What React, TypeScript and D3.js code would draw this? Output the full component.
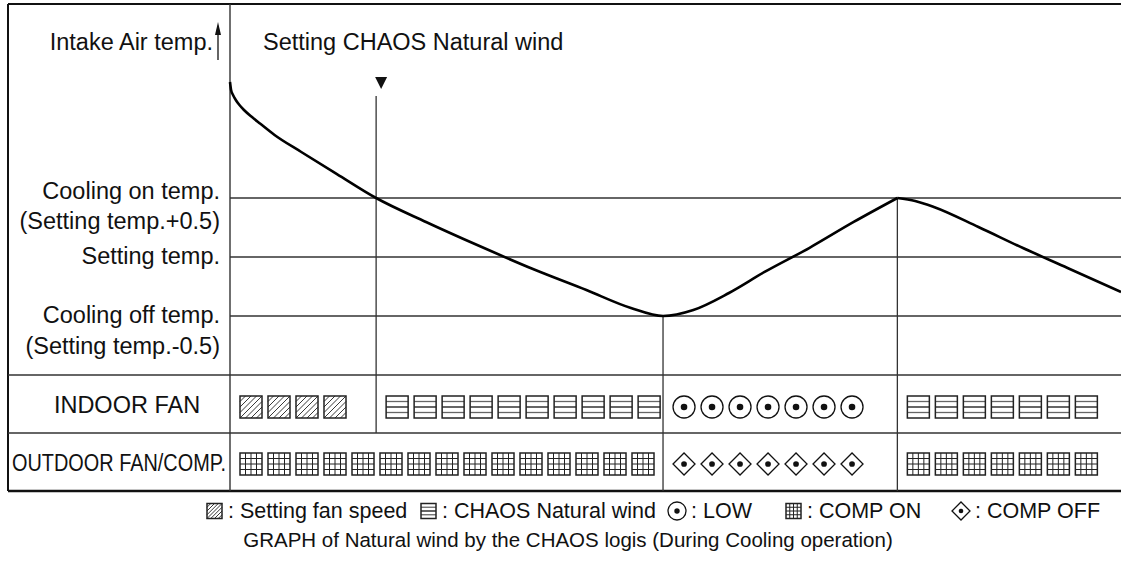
import React from 'react';
import * as d3 from 'd3';

// intake air temperature relative to setting temp (deg), against time (arbitrary units)
const curveTime = [0, 0.12, 0.34, 0.65, 1.06, 1.57, 2.47, 3.37, 5, 8, 12, 16.4, 22, 28, 34, 40, 45, 48.6, 52, 56, 60, 65, 70, 74.9, 76.9, 79, 84, 89, 94, 100];
const curveTemp = [1.483, 1.415, 1.373, 1.331, 1.288, 1.246, 1.186, 1.131, 1.034, 0.89, 0.703, 0.5, 0.297, 0.093, -0.102, -0.28, -0.432, -0.5,
  -0.449, -0.305, -0.127, 0.076, 0.297, 0.5, 0.475, 0.424, 0.254, 0.076, -0.093, -0.297];

const levelTemps = [0.5, 0, -0.5];
const levelLabels = [['Cooling on temp.', '(Setting temp.+0.5)'], ['Setting temp.'], ['Cooling off temp.', '(Setting temp.-0.5)']];

const chaosTime = 16.4;
const offTime = 48.6;
const onTime = 74.9;

const indoorKinds = ['hatch', 'lined', 'circle', 'lined'];
const indoorCounts = [4, 10, 7, 7];
const indoorStarts = [0, chaosTime, offTime, onTime];
const outdoorKinds = ['grid', 'diamond', 'grid'];
const outdoorCounts = [15, 7, 7];
const outdoorStarts = [0, offTime, onTime];

const legendKinds = ['hatch', 'lined', 'circle', 'grid', 'diamond'];
const legendTexts = [': Setting fan speed', ': CHAOS Natural wind', ': LOW', ': COMP ON', ': COMP OFF'];
const caption = 'GRAPH of Natural wind by the CHAOS logis (During Cooling operation)';

const W = 1121;
const H = 564;
const FONT = '"Liberation Sans", Arial, Helvetica, sans-serif';
const left = 8, axisX = 230, top = 4, bottom = 491;
const row1 = 375, row2 = 433;

const x = d3.scaleLinear().domain([0, 100]).range([axisX, W]);
const y = d3.scaleLinear().domain([-0.5, 0.5]).range([316, 198]);

const Symbol: React.FC<{ kind: string; cx: number; cy: number; s: number }> = ({ kind, cx, cy, s }) => {
  const h = s / 2;
  const x0 = cx - h, y0 = cy - h;
  if (kind === 'circle') {
    return (
      <g>
        <circle cx={cx} cy={cy} r={h} fill="none" stroke="#111" strokeWidth={1.3} />
        <circle cx={cx} cy={cy} r={s * 0.15} fill="#111" />
      </g>
    );
  }
  if (kind === 'diamond') {
    return (
      <g>
        <path d={`M${cx - h},${cy}L${cx},${cy - h}L${cx + h},${cy}L${cx},${cy + h}Z`} fill="none" stroke="#111" strokeWidth={1.3} />
        <circle cx={cx} cy={cy} r={s * 0.13} fill="#111" />
      </g>
    );
  }
  const lines: JSX.Element[] = [];
  if (kind === 'lined') {
    [0.25, 0.5, 0.75].forEach((f, i) =>
      lines.push(<line key={i} x1={x0} x2={x0 + s} y1={y0 + s * f} y2={y0 + s * f} stroke={i === 1 ? '#111' : '#666'} strokeWidth={1.3} />));
  } else if (kind === 'grid') {
    [0.25, 0.5, 0.75].forEach((f, i) => {
      lines.push(<line key={'h' + i} x1={x0} x2={x0 + s} y1={y0 + s * f} y2={y0 + s * f} stroke="#222" strokeWidth={1} />);
      lines.push(<line key={'v' + i} y1={y0} y2={y0 + s} x1={x0 + s * f} x2={x0 + s * f} stroke="#222" strokeWidth={1} />);
    });
  } else if (kind === 'hatch') {
    for (let k = 1; k < 8; k++) {
      const c = (k * s) / 4;
      const p = c <= s ? [x0, y0 + c, x0 + c, y0] : [x0 + c - s, y0 + s, x0 + s, y0 + c - s];
      lines.push(<line key={k} x1={p[0]} y1={p[1]} x2={p[2]} y2={p[3]} stroke="#222" strokeWidth={0.9} />);
    }
  }
  return (
    <g>
      {lines}
      <rect x={x0} y={y0} width={s} height={s} fill="none" stroke="#222" strokeWidth={1.5} />
    </g>
  );
};

export default function App() {
  const peakIdx = curveTime.indexOf(onTime);
  const makeLine = (offset: number) =>
    d3.line<number>().x((_, i) => x(curveTime[i + offset])).y(d => y(d)).curve(d3.curveMonotoneX);
  const seg1 = makeLine(0)(curveTemp.slice(0, peakIdx + 1)) || '';
  const seg2 = makeLine(peakIdx)(curveTemp.slice(peakIdx)) || '';

  const pitch = 28;
  const sym = 22;
  const pad = 10;
  const rowSymbols = (kinds: string[], counts: number[], starts: number[], cy: number) =>
    kinds.flatMap((k, si) =>
      d3.range(counts[si]).map(j => (
        <Symbol key={`${cy}-${si}-${j}`} kind={k} cx={x(starts[si]) + pad + sym / 2 + j * pitch} cy={cy} s={sym} />
      )));

  const labelDy = [[1, 31], [7], [7, 38]];
  const legendX = [207, 421, 668, 786, 952];
  const legendIcon = 15;

  const stroke = '#333';
  return (
    <svg width={W} height={H} style={{ position: 'absolute', left: 0, top: 0, background: '#fff' }} fontFamily={FONT}>
      {/* frame */}
      <line x1={left} x2={W} y1={top} y2={top} stroke="#111" strokeWidth={2.2} />
      <line x1={left} x2={left} y1={top} y2={bottom} stroke="#111" strokeWidth={2} />
      <line x1={left} x2={W} y1={bottom} y2={bottom} stroke="#111" strokeWidth={2.4} />
      <line x1={left} x2={W} y1={row1} y2={row1} stroke={stroke} strokeWidth={1.5} />
      <line x1={left} x2={W} y1={row2} y2={row2} stroke={stroke} strokeWidth={1.5} />
      <line x1={axisX} x2={axisX} y1={top} y2={bottom} stroke={stroke} strokeWidth={1.4} />

      {/* level lines and labels */}
      {levelTemps.map((t, i) => (
        <g key={i}>
          <line x1={axisX} x2={W} y1={y(t)} y2={y(t)} stroke={stroke} strokeWidth={1.3} />
          {levelLabels[i].map((txt, j) => (
            <text key={j} x={220} y={y(t) + labelDy[i][j]} fontSize={23.5} textAnchor="end" fill="#111">{txt}</text>
          ))}
        </g>
      ))}

      {/* y axis arrow + titles */}
      <line x1={218} x2={218} y1={30} y2={60} stroke="#111" strokeWidth={1.3} />
      <path d="M215,35L218,22L221,35Z" fill="#111" />
      <text x={213} y={50} fontSize={23.5} textAnchor="end" fill="#111">Intake Air temp.</text>
      <text x={263} y={50} fontSize={23.5} fill="#111">Setting CHAOS Natural wind</text>

      {/* event markers */}
      <path d={`M${x(chaosTime) - 1},77L${x(chaosTime) + 11},77L${x(chaosTime) + 5},89Z`} fill="#111" />
      <line x1={x(chaosTime)} x2={x(chaosTime)} y1={96} y2={row2} stroke={stroke} strokeWidth={1.3} />
      <line x1={x(offTime)} x2={x(offTime)} y1={y(-0.5)} y2={bottom} stroke={stroke} strokeWidth={1.3} />
      <line x1={x(onTime)} x2={x(onTime)} y1={y(0.5)} y2={bottom} stroke={stroke} strokeWidth={1.3} />

      {/* temperature curve */}
      <path d={seg1} fill="none" stroke="#000" strokeWidth={2.6} />
      <path d={seg2} fill="none" stroke="#000" strokeWidth={2.6} />

      {/* rows */}
      <text x={127} y={413} fontSize={23.5} textAnchor="middle" fill="#111">INDOOR FAN</text>
      <text x={119} y={471} fontSize={23} textAnchor="middle" fill="#111" textLength={214} lengthAdjust="spacingAndGlyphs">OUTDOOR FAN/COMP.</text>
      {rowSymbols(indoorKinds, indoorCounts, indoorStarts, 407)}
      {rowSymbols(outdoorKinds, outdoorCounts, outdoorStarts, 464)}

      {/* legend */}
      {legendKinds.map((k, i) => {
        const round = k === 'circle' || k === 'diamond';
        return (
          <g key={k}>
            <Symbol kind={k} cx={legendX[i] + (round ? 9 : legendIcon / 2)} cy={511} s={round ? 18 : legendIcon} />
            <text x={legendX[i] + (round ? 23 : 21)} y={518} fontSize={21.5} fill="#111">{legendTexts[i]}</text>
          </g>
        );
      })}
      <text x={568} y={547} fontSize={20.5} textAnchor="middle" fill="#111">{caption}</text>
    </svg>
  );
}
